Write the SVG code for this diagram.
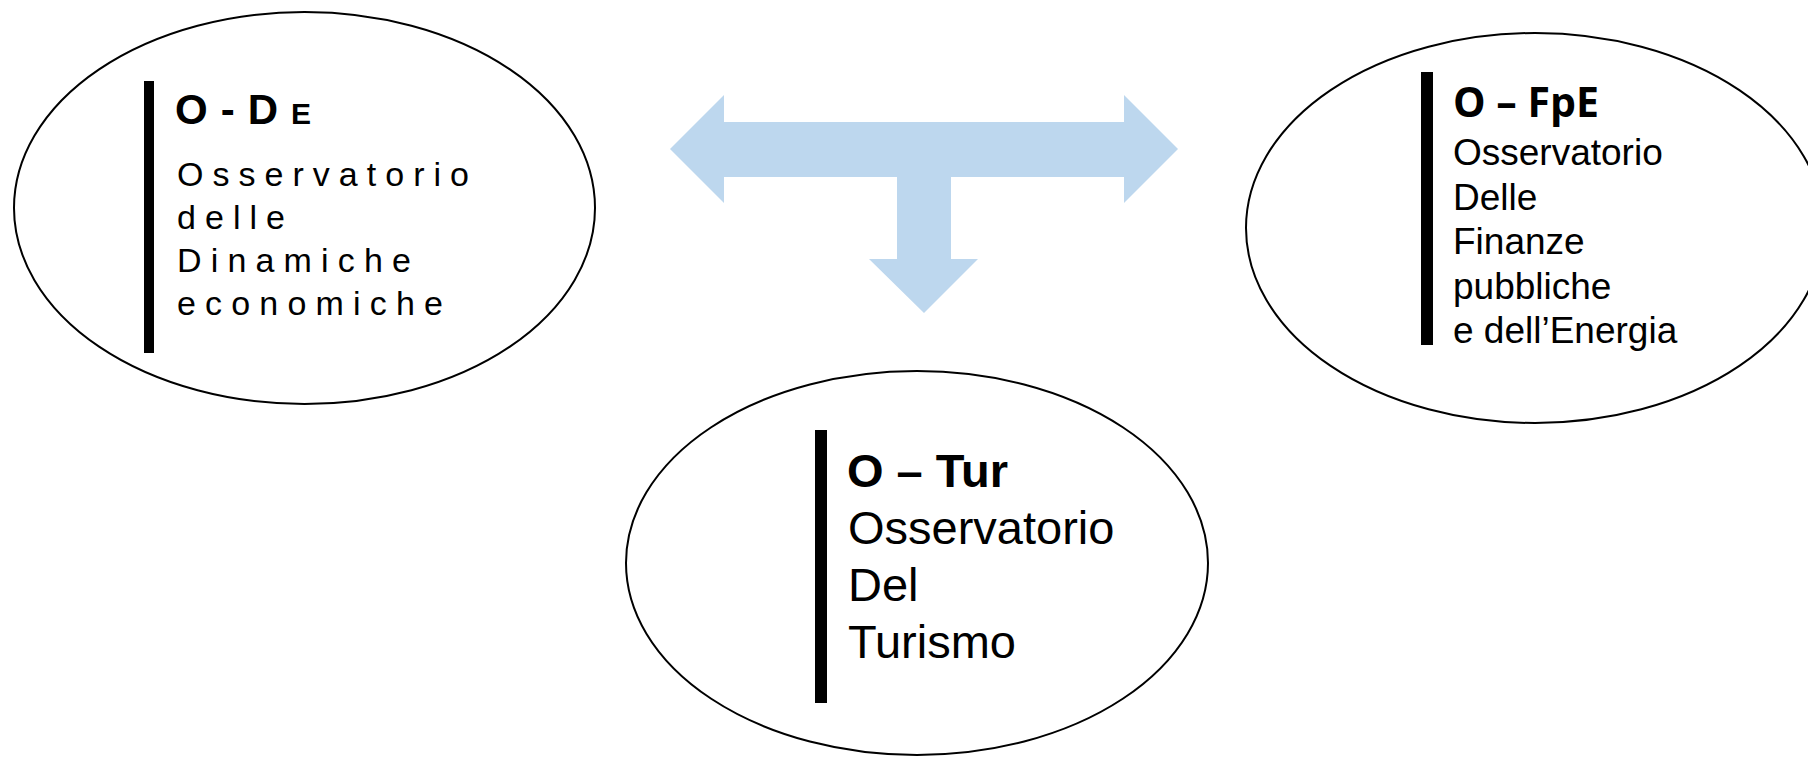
<svg xmlns="http://www.w3.org/2000/svg" width="1808" height="758" viewBox="0 0 1808 758">
<style>
.ell{fill:#ffffff;stroke:#000000;stroke-width:2}
.bar{fill:#000000}
.arrow{fill:#BDD7EE}
.sp{font-family:"Liberation Sans",Arial,sans-serif;fill:#000000}
.spb{font-family:"Liberation Sans",Arial,sans-serif;font-weight:bold;fill:#000000}
.ttl{font-family:"Open Sans","Noto Sans",sans-serif;font-weight:bold;fill:#000000}
</style>
<rect x="0" y="0" width="1808" height="758" fill="#ffffff"/>
<g id="connectors">
<polygon class="arrow" points="670,149 724,95 724,122 1124,122 1124,95 1178,149 1124,203 1124,177 951,177 951,259 978,259 924,313 869,259 897,259 897,177 724,177 724,203"/>
</g>
<g id="node-ode">
<ellipse class="ell" cx="304.5" cy="208" rx="290.5" ry="196"/>
<rect class="bar" x="144" y="81" width="10" height="272"/>
<text class="spb" x="175" y="124" font-size="42" letter-spacing="13">O-D<tspan font-size="30">E</tspan></text>
<text class="sp" x="177" y="186" font-size="34" textLength="292" lengthAdjust="spacing">Osservatorio</text>
<text class="sp" x="177" y="229" font-size="34" textLength="108" lengthAdjust="spacing">delle</text>
<text class="sp" x="177" y="272" font-size="34" textLength="234" lengthAdjust="spacing">Dinamiche</text>
<text class="sp" x="177" y="315" font-size="34" textLength="266" lengthAdjust="spacing">economiche</text>
</g>
<g id="node-ofpe">
<ellipse class="ell" cx="1535" cy="228" rx="289" ry="195"/>
<rect class="bar" x="1421" y="72" width="12" height="273"/>
<text class="ttl" x="1453" y="117" font-size="41">O – FpE</text>
<text class="sp" x="1453" y="165" font-size="37">Osservatorio</text>
<text class="sp" x="1453" y="209.5" font-size="37">Delle</text>
<text class="sp" x="1453" y="254" font-size="37">Finanze</text>
<text class="sp" x="1453" y="298.5" font-size="37">pubbliche</text>
<text class="sp" x="1453" y="343" font-size="37">e dell’Energia</text>
</g>
<g id="node-otur">
<ellipse class="ell" cx="917" cy="563" rx="291" ry="192"/>
<rect class="bar" x="815" y="430" width="12" height="273"/>
<text class="spb" x="847" y="487" font-size="47">O – Tur</text>
<text class="sp" x="848" y="544" font-size="47">Osservatorio</text>
<text class="sp" x="848" y="601" font-size="47">Del</text>
<text class="sp" x="848" y="658" font-size="47">Turismo</text>
</g>
</svg>
